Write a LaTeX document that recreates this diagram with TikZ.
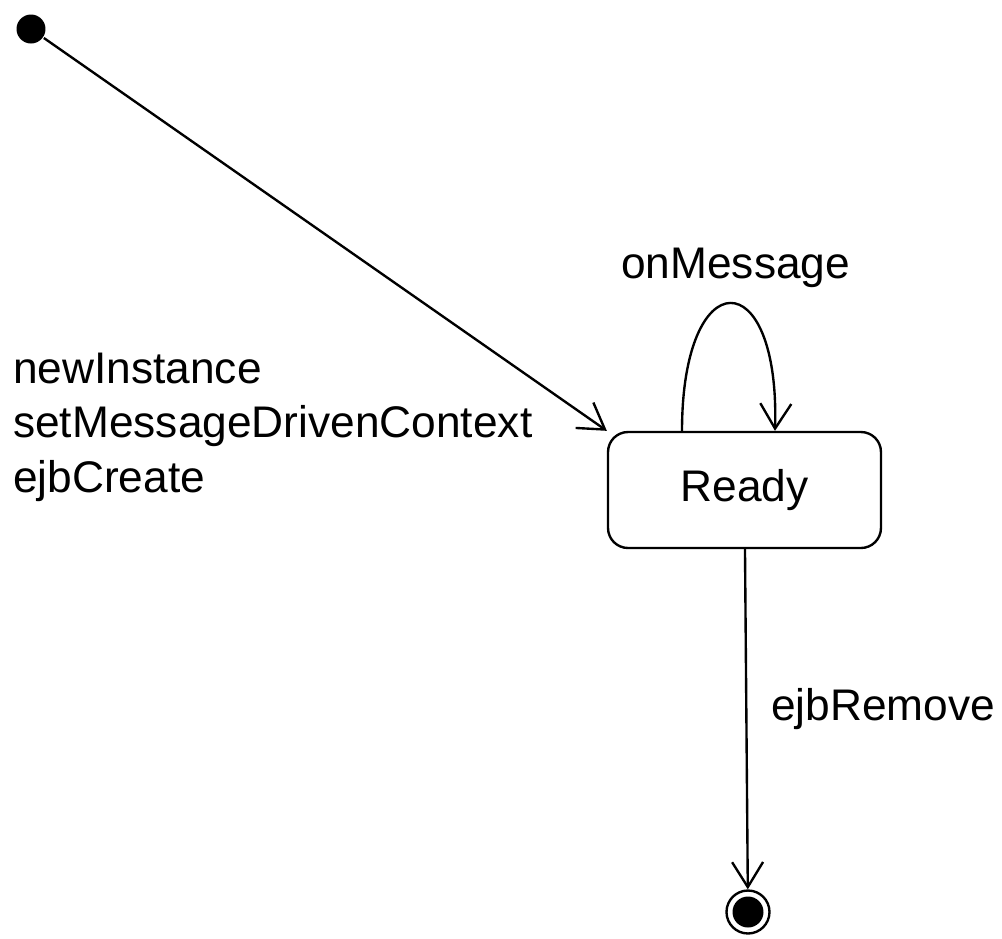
\documentclass[tikz,border=0pt]{standalone}
\usepackage{fontspec}
\setmainfont{Liberation Sans}
\usetikzlibrary{arrows.meta, positioning}

\newcommand\lblfont{\fontsize{25.2}{31}\selectfont}

\begin{document}
\begin{tikzpicture}[
  x=0.02cm, y=-0.02cm,
  line width=1.35pt,
  state/.style={rectangle, rounded corners=0.4cm, draw, minimum width=5.46cm,
                minimum height=2.32cm, inner sep=0pt, font=\lblfont},
  initial/.style={circle, fill=black, minimum size=0.58cm, inner sep=0pt},
  final/.style={circle, draw, minimum size=0.86cm, inner sep=0pt,
                path picture={\fill (path picture bounding box.center) circle (0.31cm);}},
  trans/.style={anchor=base west, inner sep=0pt, font=\lblfont},
  arrow/.style={-{Straight Barb[length=0.5cm, width=0.62cm]}},
]
  \useasboundingbox (0,0) rectangle (1002,938);

  \node[initial] (init)  at (31,29) {};
  \node[state]   (ready) at (744.5,490) {Ready};
  \node[final]   (done)  at (748,912) {};

  \node[trans] (newinst) at (12,383) {newInstance};
  \node[trans] (setctx)  at (12,437) {setMessageDrivenContext};
  \node[trans] (create)  at (12,492) {ejbCreate};
  \node[trans] (onmsg)   at (620,278) {onMessage};
  \node[trans] (remove)  at (770,720) {ejbRemove};

  \draw[arrow] (init) -- (ready.north west);
  \draw[arrow] ([xshift=-1.25cm]ready.north)
    .. controls +(0,3.4cm) and +(0.1cm,3.4cm) .. ([xshift=0.61cm]ready.north);
  \draw[arrow] (ready) -- (done);
\end{tikzpicture}
\end{document}
